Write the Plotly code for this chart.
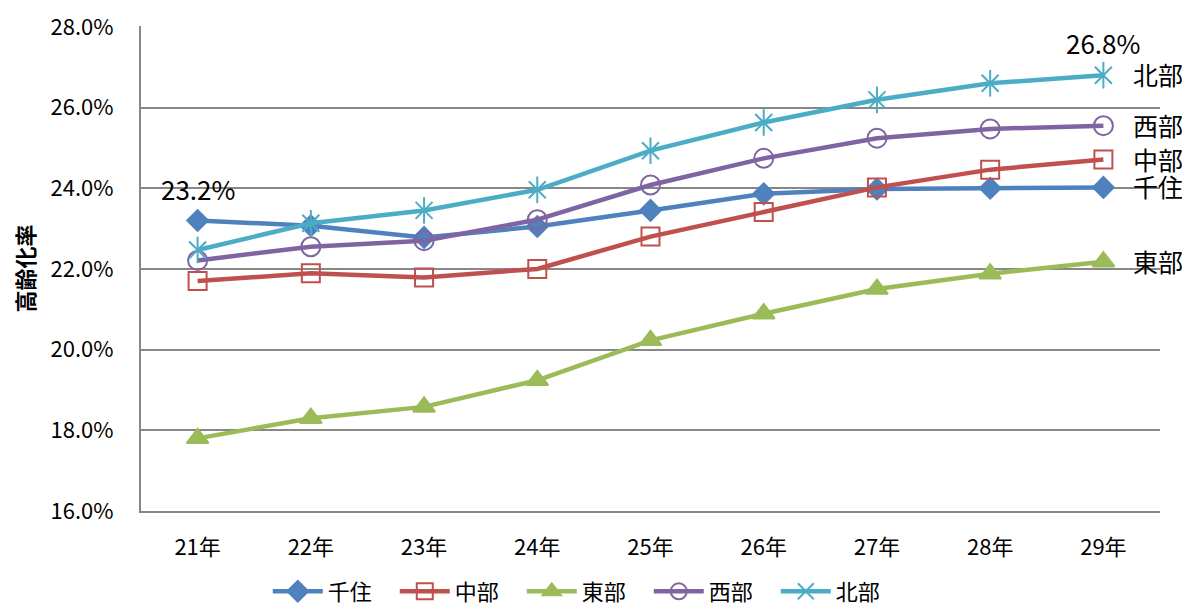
import plotly.graph_objects as go

years = ["21年", "22年", "23年", "24年", "25年", "26年", "27年", "28年", "29年"]
senju = [23.2, 23.07, 22.78, 23.05, 23.45, 23.86, 23.98, 24.0, 24.02]
chubu = [21.7, 21.89, 21.79, 22.0, 22.8, 23.41, 24.02, 24.46, 24.71]
tobu = [17.8, 18.3, 18.58, 19.24, 20.23, 20.89, 21.5, 21.88, 22.18]
seibu = [22.21, 22.55, 22.7, 23.22, 24.08, 24.74, 25.24, 25.47, 25.55]
hokubu = [22.47, 23.13, 23.45, 23.96, 24.93, 25.63, 26.19, 26.6, 26.8]
names = ["千住", "中部", "東部", "西部", "北部"]
yticks = [16, 18, 20, 22, 24, 26, 28]

FONT = "Noto Sans CJK JP"
colors = ["#4F81BD", "#C0504D", "#9BBB59", "#8064A2", "#4BACC6"]
series = [senju, chubu, tobu, seibu, hokubu]
symbols = ["diamond", "square-open", "triangle-up", "circle-open", "x-thin-open"]
sizes = [16, 18, 19, 19, 17]

fig = go.Figure()
for nm, vals, col, sym, sz in zip(names, series, colors, symbols, sizes):
    fig.add_trace(go.Scatter(
        x=years, y=vals, name=nm, mode="lines+markers",
        line=dict(color=col, width=4.5),
        marker=dict(symbol=sym, size=sz, color=col,
                    line=dict(color=col, width=2)),
    ))
# extra vertical stroke for the six-armed star marker of 北部
fig.add_trace(go.Scatter(
    x=years, y=hokubu, mode="markers", showlegend=False, hoverinfo="skip",
    marker=dict(symbol="line-ns-open", size=19, color=colors[4],
                line=dict(color=colors[4], width=2)),
))

# end labels
for nm, vals in zip(names, series):
    fig.add_annotation(x=years[-1], y=vals[-1], text=nm, showarrow=False,
                       xanchor="left", xshift=28, yshift=1,
                       font=dict(family=FONT, size=25, color="#000000"))
# data labels
fig.add_annotation(x=years[0], y=senju[0], text=f"{senju[0]:.1f}%", showarrow=False,
                   yshift=32, font=dict(family=FONT, size=26, color="#000000"))
fig.add_annotation(x=years[-1], y=hokubu[-1], text=f"{hokubu[-1]:.1f}%", showarrow=False,
                   yshift=33, font=dict(family=FONT, size=26, color="#000000"))

# page body has an 8px margin, so the figure is sized/offset to fit the window
fig.update_layout(
    width=1174, height=598,
    margin=dict(l=133, r=22, t=18, b=95, autoexpand=False),
    paper_bgcolor="white", plot_bgcolor="white",
    font=dict(family=FONT, size=22, color="#000000"),
    showlegend=True,
    legend=dict(orientation="h", x=0.436, xanchor="center", y=-0.166, yanchor="middle",
                font=dict(family=FONT, size=22), itemwidth=50,
                entrywidth=62, entrywidthmode="pixels",
                bgcolor="rgba(0,0,0,0)"),
)
fig.update_xaxes(type="category", range=[-0.5, 8.5], showgrid=False, automargin=False,
                 showline=True, linecolor="#878787", linewidth=2,
                 ticks="", ticklabelstandoff=16,
                 tickfont=dict(family=FONT, size=22))
fig.update_yaxes(range=[16, 28.02], tickvals=yticks, automargin=False,
                 ticktext=[f"{v:.1f}%" for v in yticks],
                 showgrid=True, gridcolor="#878787", gridwidth=2,
                 showline=True, linecolor="#878787", linewidth=2,
                 zeroline=False, ticks="", ticklabelstandoff=21,
                 tickfont=dict(family=FONT, size=22),
                 title=dict(text="<b>高齢化率</b>", font=dict(family=FONT, size=22), standoff=10))

fig.write_html("out.html")
